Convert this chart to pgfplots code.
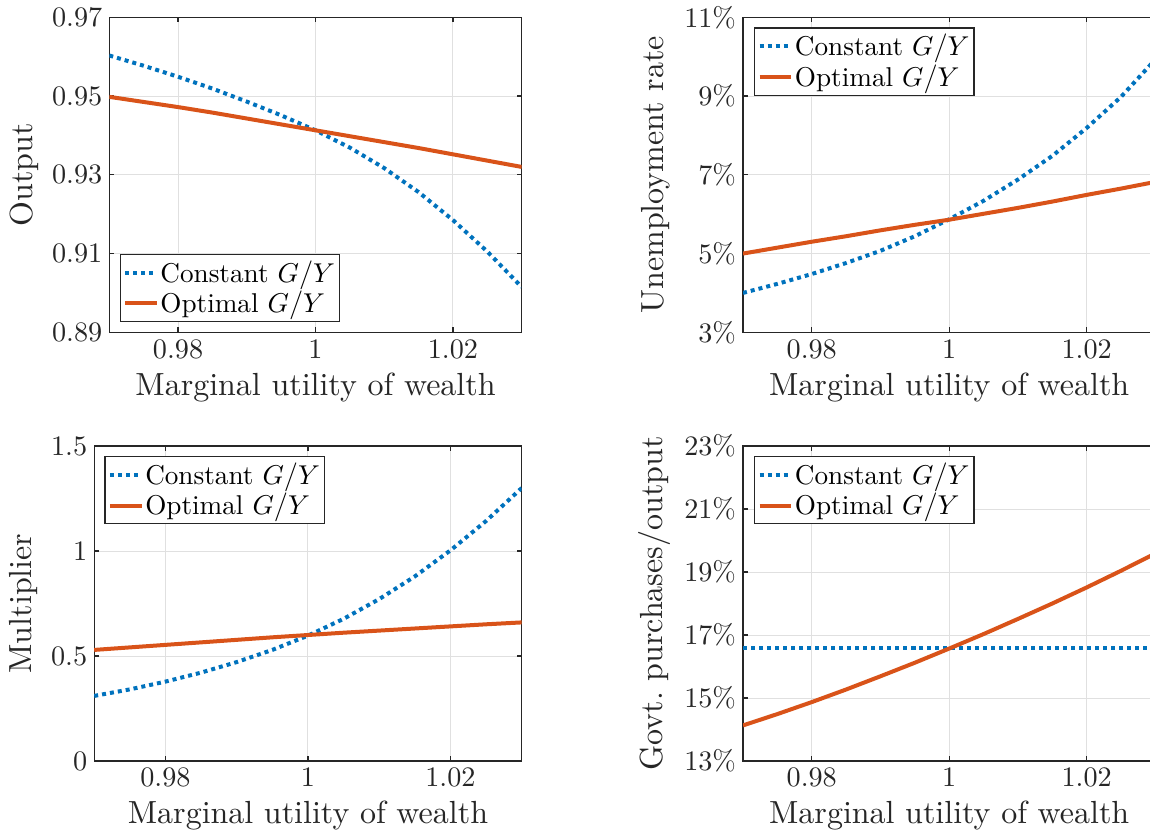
\documentclass[border=0pt]{standalone}
\usepackage{fontspec}
\setmainfont{lmroman10-regular}[Extension=.otf, ItalicFont=lmroman10-italic, BoldFont=lmroman10-bold]
\usepackage{pgfplots}
\pgfplotsset{compat=1.18}
\usepackage{pgfplotstable}
\DeclareFontShape{OML}{cmm}{m}{it}{<->cmmi10}{}
\definecolor{mblue}{rgb}{0,0.447,0.741}
\definecolor{morange}{rgb}{0.85,0.325,0.098}
\definecolor{maxis}{rgb}{0.15,0.15,0.15}

\pgfplotstableread{
x oc oo uc uo mc mo gc go
0.970 0.9603 0.9498 4.00 5.00 0.310 0.529 16.58 14.13
0.975 0.9577 0.9485 4.23 5.15 0.341 0.541 16.58 14.49
0.980 0.9549 0.9472 4.48 5.30 0.378 0.553 16.58 14.87
0.985 0.9519 0.9458 4.76 5.44 0.421 0.565 16.58 15.27
0.990 0.9486 0.9443 5.07 5.59 0.471 0.577 16.58 15.69
0.995 0.9451 0.9428 5.44 5.73 0.529 0.589 16.58 16.12
1.000 0.9413 0.9413 5.87 5.86 0.597 0.600 16.58 16.57
1.005 0.9369 0.9398 6.34 6.01 0.677 0.611 16.58 17.03
1.010 0.9317 0.9383 6.88 6.16 0.771 0.621 16.58 17.51
1.015 0.9256 0.9368 7.48 6.32 0.879 0.631 16.58 18.00
1.020 0.9185 0.9352 8.19 6.49 1.003 0.641 16.58 18.51
1.025 0.9105 0.9336 8.98 6.65 1.143 0.651 16.58 19.04
1.030 0.9015 0.9320 9.93 6.82 1.300 0.660 16.58 19.59
}\data

\pgfplotsset{
  mstyle/.style={
    scale only axis, height=157.5pt,
    xmin=0.97, xmax=1.03,
    xtick={0.98,1,1.02}, xticklabels={0.98,1,1.02},
    grid=major, major grid style={color=black!12, line width=0.5pt},
    tick align=inside, xtick pos=both, ytick pos=both,
    major tick length=2.5pt,
    axis line style={maxis, line width=0.6pt},
    tick style={maxis, line width=0.6pt},
    tick label style={font=\fontsize{14.1}{17}\selectfont, text=maxis},
    label style={font=\fontsize{16}{19}\selectfont, text=maxis},
    xlabel={Marginal utility of wealth},
    legend cell align=left,
    legend image code/.code={\draw[##1] (0pt,0pt) -- (15.85pt,0pt);},
    legend style={font=\fontsize{13.6}{16}\selectfont, draw=maxis, line width=0.6pt,
      fill=white, inner xsep=1.4pt, inner ysep=1pt, row sep=-1pt,
      nodes={inner xsep=0.85pt}},
  },
  cstyle/.style={mblue, line width=2pt, dash pattern=on 2pt off 2pt, line cap=butt},
  ostyle/.style={morange, line width=2pt},
}

\begin{document}
\begin{tikzpicture}
\useasboundingbox (0,0) rectangle (575pt,418.5pt);

% Top-left: Output
\begin{axis}[mstyle, width=206.2pt, at={(54.65pt,252.35pt)}, anchor=south west,
  ymin=0.89, ymax=0.97, ytick={0.89,0.91,0.93,0.95,0.97},
  yticklabels={0.89,0.91,0.93,0.95,0.97},
  ylabel={Output},
  legend style={at={(0.025,0.032)}, anchor=south west}]
\addplot[cstyle] table[x=x,y=oc]{\data};
\addlegendentry{Constant $G/Y$}
\addplot[ostyle] table[x=x,y=oo]{\data};
\addlegendentry{Optimal $G/Y$}
\end{axis}

% Top-right: Unemployment
\begin{axis}[mstyle, width=206.2pt, at={(371.5pt,252.35pt)}, anchor=south west,
  ymin=3, ymax=11, ytick={3,5,7,9,11},
  yticklabels={3\%,5\%,7\%,9\%,11\%},
  ylabel={Unemployment rate},
  legend style={at={(0.027,0.968)}, anchor=north west}]
\addplot[cstyle] table[x=x,y=uc]{\data};
\addlegendentry{Constant $G/Y$}
\addplot[ostyle] table[x=x,y=uo]{\data};
\addlegendentry{Optimal $G/Y$}
\end{axis}

% Bottom-left: Multiplier
\begin{axis}[mstyle, width=213.75pt, at={(47.1pt,38pt)}, anchor=south west,
  ymin=0, ymax=1.5, ytick={0,0.5,1,1.5},
  yticklabels={0,0.5,1,1.5},
  ylabel={Multiplier},
  legend style={at={(0.024,0.968)}, anchor=north west}]
\addplot[cstyle] table[x=x,y=mc]{\data};
\addlegendentry{Constant $G/Y$}
\addplot[ostyle] table[x=x,y=mo]{\data};
\addlegendentry{Optimal $G/Y$}
\end{axis}

% Bottom-right: Govt purchases / output
\begin{axis}[mstyle, width=206.2pt, at={(371.5pt,38pt)}, anchor=south west,
  ymin=13, ymax=23, ytick={13,15,17,19,21,23},
  yticklabels={13\%,15\%,17\%,19\%,21\%,23\%},
  ylabel={Govt.\ purchases/output},
  legend style={at={(0.027,0.968)}, anchor=north west}]
\addplot[cstyle] table[x=x,y=gc]{\data};
\addlegendentry{Constant $G/Y$}
\addplot[ostyle] table[x=x,y=go]{\data};
\addlegendentry{Optimal $G/Y$}
\end{axis}
\end{tikzpicture}
\end{document}
